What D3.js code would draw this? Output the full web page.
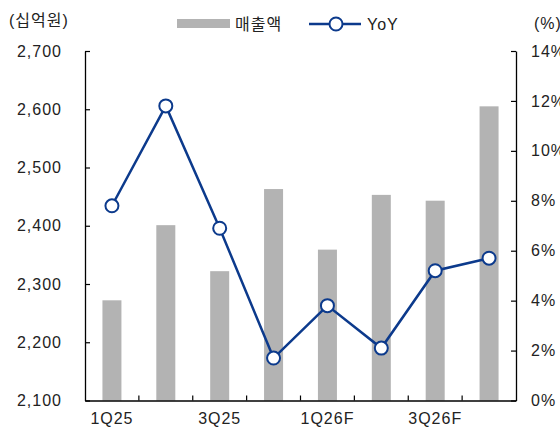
<!DOCTYPE html>
<html>
<head>
<meta charset="utf-8">
<script src="https://cdn.jsdelivr.net/npm/d3@7/dist/d3.min.js"></script>
<style>
  html, body { margin: 0; padding: 0; background: #fff; }
  svg text { font-family: "Liberation Sans", Arial, "Noto Sans CJK KR", sans-serif; fill: #222; }
</style>
</head>
<body>
<svg id="chart" width="560" height="432"></svg>
<script>
// Quarterly revenue (KRW bn) and YoY growth (%)
const quarters = ["1Q25", "2Q25", "3Q25", "4Q25", "1Q26F", "2Q26F", "3Q26F", "4Q26F"];
const revenue = [2272, 2401, 2322, 2463, 2359, 2453, 2443, 2605];
const yoy = [7.8, 11.8, 6.9, 1.7, 3.8, 2.1, 5.2, 5.7];
const leftTicks = [2100, 2200, 2300, 2400, 2500, 2600, 2700];
const rightTicks = [0, 2, 4, 6, 8, 10, 12, 14];
const shownLabels = ["1Q25", "3Q25", "1Q26F", "3Q26F"];

const svg = d3.select("#chart");
const plot = { left: 85, right: 516, top: 51, bottom: 400.5 };
const barColor = "#b3b3b3", lineColor = "#0c3a8c";

const x = d3.scaleBand().domain(quarters).range([plot.left, plot.right]).padding(0);
const yL = d3.scaleLinear().domain([2100, 2700]).range([plot.bottom, plot.top]);
const yR = d3.scaleLinear().domain([0, 14]).range([plot.bottom, plot.top]);
const barW = 19;

// bars
svg.append("g").selectAll("rect").data(quarters).join("rect")
  .attr("x", (d) => x(d) + x.bandwidth() / 2 - barW / 2)
  .attr("y", (d, i) => yL(revenue[i]))
  .attr("width", barW)
  .attr("height", (d, i) => plot.bottom - yL(revenue[i]))
  .attr("fill", barColor);

// left axis
const gL = svg.append("g").attr("transform", `translate(${plot.left},0)`)
  .call(d3.axisLeft(yL).tickValues(leftTicks).tickFormat(d3.format(",")).tickSizeInner(-5).tickSizeOuter(0).tickPadding(23));
// right axis
const gR = svg.append("g").attr("transform", `translate(${plot.right},0)`)
  .call(d3.axisRight(yR).tickValues(rightTicks).tickFormat((d) => d + "%").tickSizeInner(-5).tickSizeOuter(0).tickPadding(15));
[gL, gR].forEach((g) => {
  g.select(".domain").attr("stroke", "#000").attr("stroke-width", 1.3);
  g.selectAll(".tick line").attr("stroke", "#000").attr("stroke-width", 1.2);
  g.selectAll(".tick text").attr("font-size", 16).attr("letter-spacing", 1).attr("fill", "#222")
    .style("font-family", "'Liberation Sans', Arial, sans-serif");
});

// bottom axis with category labels on alternate quarters
const gB = svg.append("g").attr("transform", `translate(0,${plot.bottom})`)
  .call(d3.axisBottom(x).tickSize(0).tickPadding(12).tickFormat((d) => shownLabels.includes(d) ? d : ""));
gB.select(".domain").attr("stroke", "#000").attr("stroke-width", 1.3);
gB.selectAll(".tick text").attr("font-size", 16).attr("letter-spacing", 1).attr("fill", "#222")
  .style("font-family", "'Liberation Sans', Arial, sans-serif");
// boundary ticks between quarters
gB.selectAll(".qtick").data(quarters.slice(1)).join("line")
  .attr("class", "qtick")
  .attr("x1", (d) => x(d)).attr("x2", (d) => x(d))
  .attr("y1", 0).attr("y2", -5)
  .attr("stroke", "#000").attr("stroke-width", 1.2);

// YoY line
const line = d3.line()
  .x((d, i) => x(quarters[i]) + x.bandwidth() / 2)
  .y((d) => yR(d));
svg.append("path").datum(yoy)
  .attr("d", line)
  .attr("fill", "none")
  .attr("stroke", lineColor)
  .attr("stroke-width", 2.5);
svg.append("g").selectAll("circle").data(yoy).join("circle")
  .attr("cx", (d, i) => x(quarters[i]) + x.bandwidth() / 2)
  .attr("cy", (d) => yR(d))
  .attr("r", 6.5)
  .attr("fill", "#fff")
  .attr("stroke", lineColor)
  .attr("stroke-width", 2);

// unit labels
svg.append("text").attr("x", 9).attr("y", 26).attr("font-size", 16).attr("letter-spacing", 1).text("(십억원)");
svg.append("text").attr("x", 534).attr("y", 29).attr("font-size", 16).attr("letter-spacing", 1).text("(%)");

// legend
const lg = svg.append("g");
lg.append("rect").attr("x", 177).attr("y", 19).attr("width", 53).attr("height", 9).attr("fill", barColor);
lg.append("text").attr("x", 235).attr("y", 30).attr("font-size", 16).attr("letter-spacing", 1).text("매출액");
lg.append("line").attr("x1", 309).attr("x2", 361).attr("y1", 24).attr("y2", 24)
  .attr("stroke", lineColor).attr("stroke-width", 2.5);
lg.append("circle").attr("cx", 336).attr("cy", 24).attr("r", 6.5)
  .attr("fill", "#fff").attr("stroke", lineColor).attr("stroke-width", 2);
lg.append("text").attr("x", 367).attr("y", 30).attr("font-size", 16).attr("letter-spacing", 1).text("YoY");
</script>
</body>
</html>
